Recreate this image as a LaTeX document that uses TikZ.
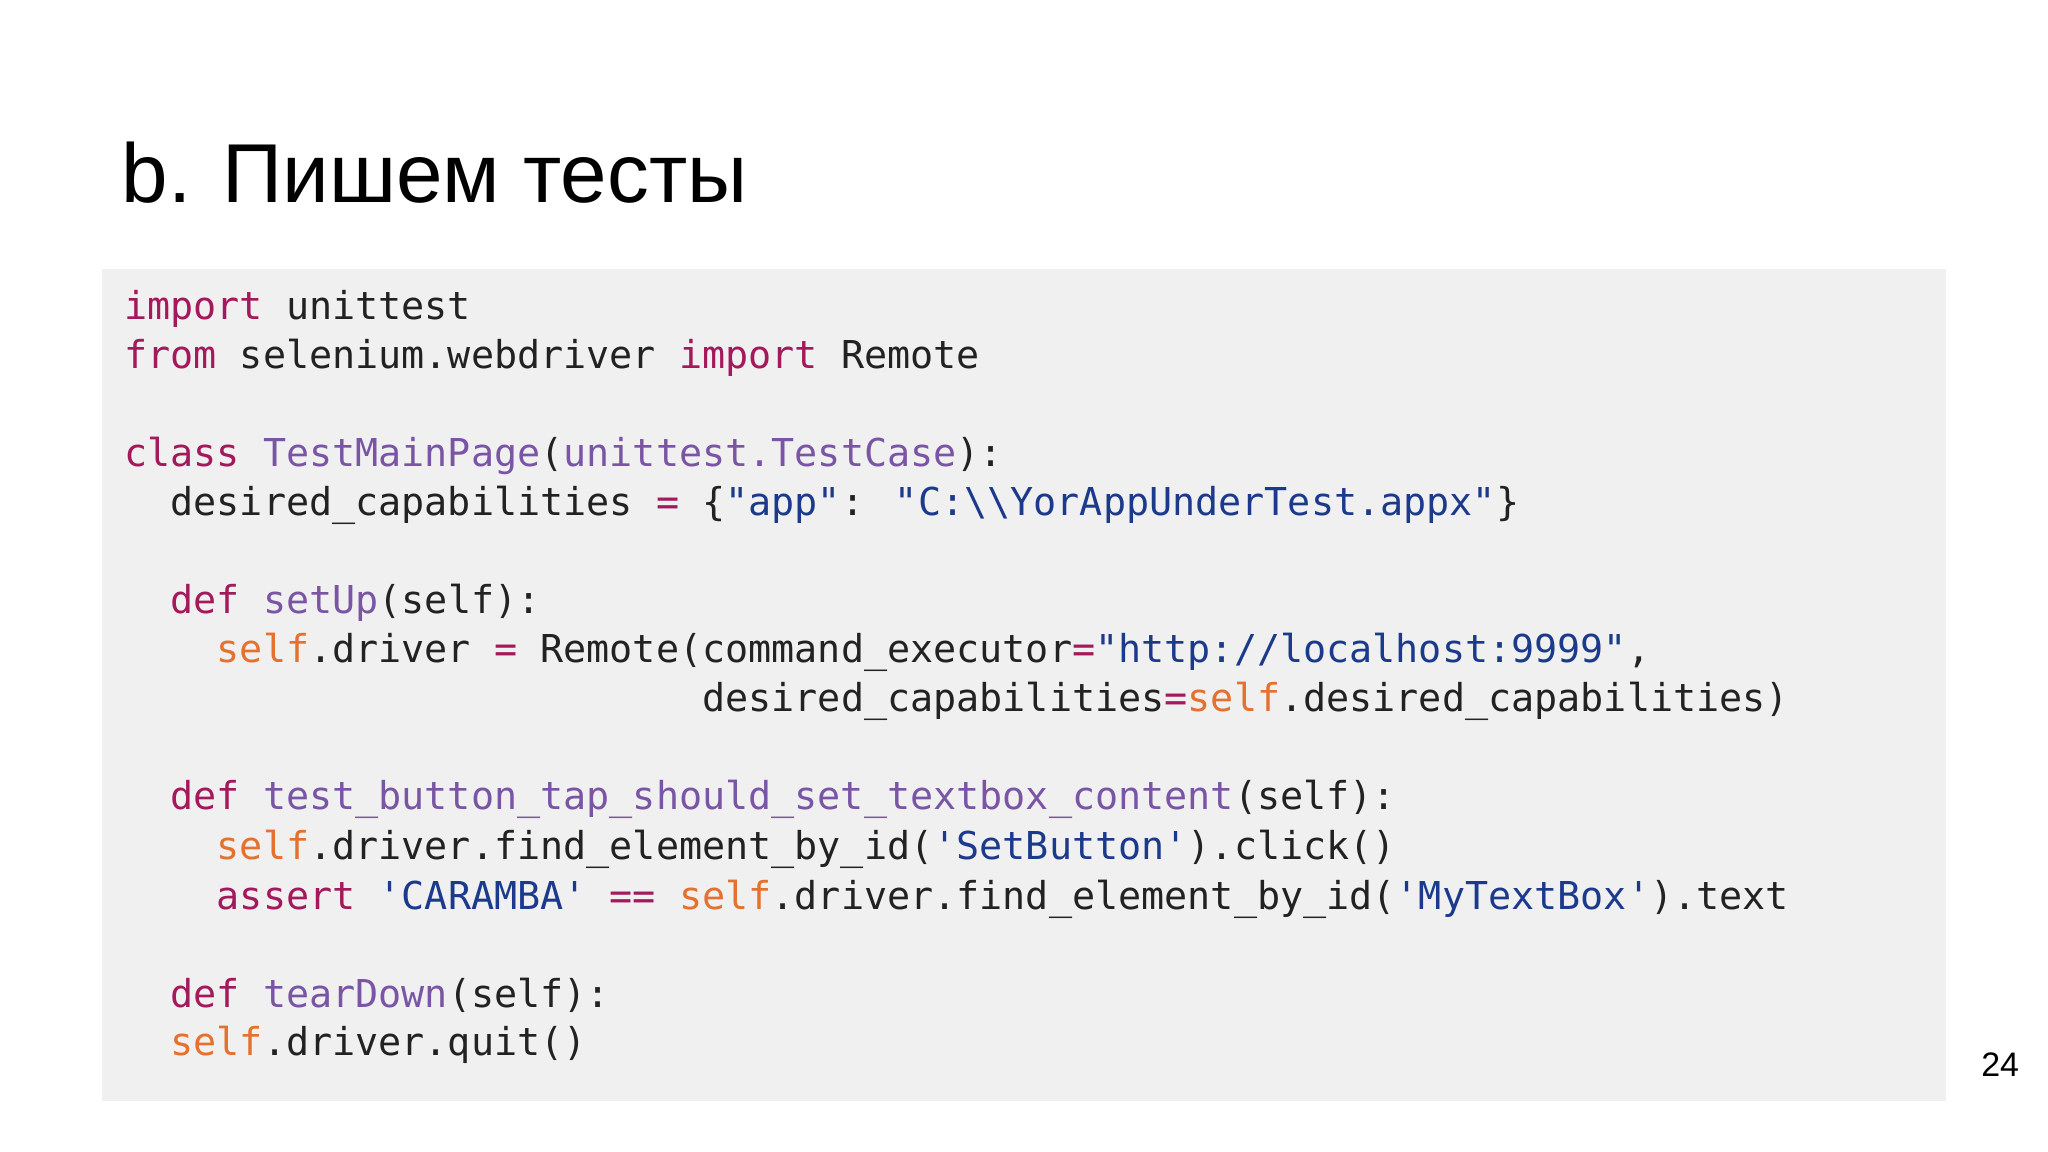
\documentclass[tikz,border=0pt]{standalone}
\usepackage{fontspec}
\setmainfont{Liberation Sans}
\newfontfamily\codefont{DejaVu Sans Mono}
\definecolor{kwc}{HTML}{A3195B}
\definecolor{fnc}{HTML}{7B55A5}
\definecolor{strc}{HTML}{1C3A8C}
\definecolor{selfc}{HTML}{E5712E}
\definecolor{txtc}{HTML}{222222}
\definecolor{boxc}{HTML}{F0F0F0}
\newcommand{\ckw}[1]{\textcolor{kwc}{#1}}
\newcommand{\cfn}[1]{\textcolor{fnc}{#1}}
\newcommand{\cstr}[1]{\textcolor{strc}{#1}}
\newcommand{\cself}[1]{\textcolor{selfc}{#1}}
\newcommand{\cop}[1]{\textcolor{kwc}{#1}}
\begin{document}
\begin{tikzpicture}[x=1pt,y=-1pt,
  code/.style={anchor=base west,inner sep=0pt,font=\codefont\fontsize{29.4}{30}\selectfont,text=txtc}]
\useasboundingbox (0,0) rectangle (1568,882);
\fill[white] (0,0) rectangle (1568,882);
\fill[boxc] (78,206) rectangle (1490,843);
\node[anchor=base west,inner sep=0pt,font=\fontsize{64}{70}\selectfont] (title) at (93,155) {b. Пишем тесты};
\node[anchor=base east,inner sep=0pt,font=\fontsize{26}{30}\selectfont] (page) at (1546,824) {24};
\def\ch{17.7}
\node[code] (l1) at (95,245) {\ckw{import} unittest};
\node[code] (l2) at (95,282) {\ckw{from} selenium.webdriver \ckw{import} Remote};
\node[code] (l3) at (95,357) {\ckw{class} \cfn{TestMainPage}(\cfn{unittest.TestCase}):};
\node[code] (l4) at (130.4,395) {desired\_capabilities \cop{=} \{\cstr{"app"}: \cstr{"C:\textbackslash\textbackslash YorAppUnderTest.appx"}\}};
\node[code] (l5) at (130.4,470) {\ckw{def} \cfn{setUp}(self):};
\node[code] (l6) at (165.8,507) {\cself{self}.driver \cop{=} Remote(command\_executor\cop{=}\cstr{"http://localhost:9999"},};
\node[code] (l7) at (537.5,545) {desired\_capabilities\cop{=}\cself{self}.desired\_capabilities)};
\node[code] (l8) at (130.4,620) {\ckw{def} \cfn{test\_button\_tap\_should\_set\_textbox\_content}(self):};
\node[code] (l9) at (165.8,658) {\cself{self}.driver.find\_element\_by\_id(\cstr{'SetButton'}).click()};
\node[code] (l10) at (165.8,696) {\ckw{assert} \cstr{'CARAMBA'} \cop{==} \cself{self}.driver.find\_element\_by\_id(\cstr{'MyTextBox'}).text};
\node[code] (l11) at (130.4,771) {\ckw{def} \cfn{tearDown}(self):};
\node[code] (l12) at (130.4,808) {\cself{self}.driver.quit()};
\end{tikzpicture}
\end{document}
